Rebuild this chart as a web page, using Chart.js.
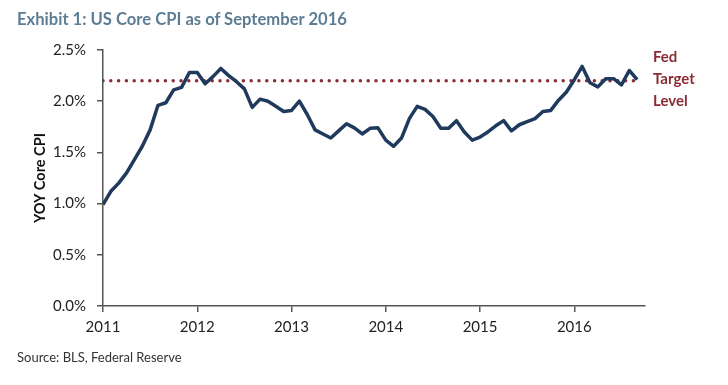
<!DOCTYPE html>
<html>
<head>
<meta charset="utf-8">
<script src="https://cdn.jsdelivr.net/npm/chart.js@4.4.0/dist/chart.umd.min.js"></script>
<style>
    body { margin: 0; background: #fff; }
    #wrap { position: relative; width: 728px; height: 385px; font-family: Lato, 'Open Sans', sans-serif; }
    #cpiChart { position: absolute; left: 0; top: 0; }
    .title { position: absolute; left: 17px; top: 9px; font-size: 16.6px; font-weight: bold; color: #5d7d95; white-space: nowrap; }
    .source { position: absolute; left: 17px; top: 349px; font-size: 13px; color: #333; white-space: nowrap; }
    .fed { position: absolute; left: 653px; top: 45px; font-size: 15px; font-weight: bold; color: #8b2b35; line-height: 22px; }
</style>
</head>
<body>
<div id="wrap">
    <canvas id="cpiChart" width="728" height="385"></canvas>
    <div class="title">Exhibit 1: US Core CPI as of September 2016</div>
    <div class="fed">Fed<br>Target<br>Level</div>
    <div class="source">Source: BLS, Federal Reserve</div>
</div>
<script>
// x axis labels, one per January
const years = ['2011', '2012', '2013', '2014', '2015', '2016'];

// monthly core CPI, YoY %, Jan 2011 .. Sep 2016
const coreCpi = [
    0.99, 1.12, 1.20, 1.30, 1.43, 1.56, 1.72, 1.96, 1.985, 2.11, 2.135, 2.28,
    2.28, 2.17, 2.24, 2.32, 2.25, 2.19, 2.12, 1.94, 2.02, 2.00, 1.95, 1.90,
    1.91, 2.00, 1.87, 1.72, 1.68, 1.64, 1.71, 1.78, 1.74, 1.68, 1.735, 1.74,
    1.62, 1.56, 1.64, 1.83, 1.95, 1.92, 1.85, 1.735, 1.735, 1.81, 1.70, 1.62,
    1.65, 1.70, 1.76, 1.81, 1.71, 1.77, 1.80, 1.83, 1.90, 1.91, 2.01, 2.09,
    2.21, 2.34, 2.18, 2.14, 2.22, 2.22, 2.16, 2.30, 2.21
];

const fedTarget = 2.2;
const yTicks = [0, 0.5, 1.0, 1.5, 2.0, 2.5];

Chart.defaults.font.family = 'Lato, "Open Sans", sans-serif';

let ctx = document.getElementById('cpiChart').getContext('2d');

var cpiChart = new Chart(ctx, {
    type: 'line',
    data: {
        datasets: [
        {
            label: 'YOY Core CPI',
            data: coreCpi.map((v, i) => ({ x: i, y: v })),
            borderColor: '#1f3a5c',
            borderWidth: 3.5,
            borderJoinStyle: 'round',
            pointRadius: 0,
            tension: 0,
            fill: false
        },
        {
            label: 'Fed Target Level',
            data: [{ x: 0, y: fedTarget }, { x: coreCpi.length - 1, y: fedTarget }],
            borderColor: '#8b2b35',
            borderWidth: 3.5,
            borderDash: [0, 7.8],
            borderCapStyle: 'round',
            pointRadius: 0,
            fill: false
        }]
    },
    options: {
        responsive: false,
        animation: false,
        devicePixelRatio: 1,
        layout: { padding: { left: 17, right: 83, top: 50, bottom: 49 } },
        plugins: {
            legend: { display: false },
            tooltip: { enabled: false }
        },
        scales: {
            x: {
                type: 'linear',
                min: 0,
                max: 69,
                afterBuildTicks: s => { s.ticks = years.map((y, i) => ({ value: i * 12 })); },
                afterFit: s => { s.height = 30; },
                grid: { drawOnChartArea: false, tickLength: 6, color: '#555', lineWidth: 1.5 },
                border: { color: '#555', width: 1.5 },
                ticks: {
                    font: { size: 15 },
                    color: '#222',
                    padding: 6,
                    maxRotation: 0,
                    callback: v => years[v / 12]
                }
            },
            y: {
                min: 0,
                max: 2.5,
                afterBuildTicks: s => { s.ticks = yTicks.map(v => ({ value: v })); },
                afterFit: s => { s.width = 86; },
                grid: { drawOnChartArea: false, tickLength: 6, color: '#555', lineWidth: 1.5 },
                border: { color: '#555', width: 1.5 },
                ticks: {
                    font: { size: 15 },
                    color: '#222',
                    padding: 11,
                    callback: v => v.toFixed(1) + '%'
                },
                title: {
                    display: true,
                    text: 'YOY Core CPI',
                    font: { size: 14.5, weight: 'bold' },
                    color: '#111',
                    padding: { top: 15 }
                }
            }
        }
    }
});
</script>
</body>
</html>
